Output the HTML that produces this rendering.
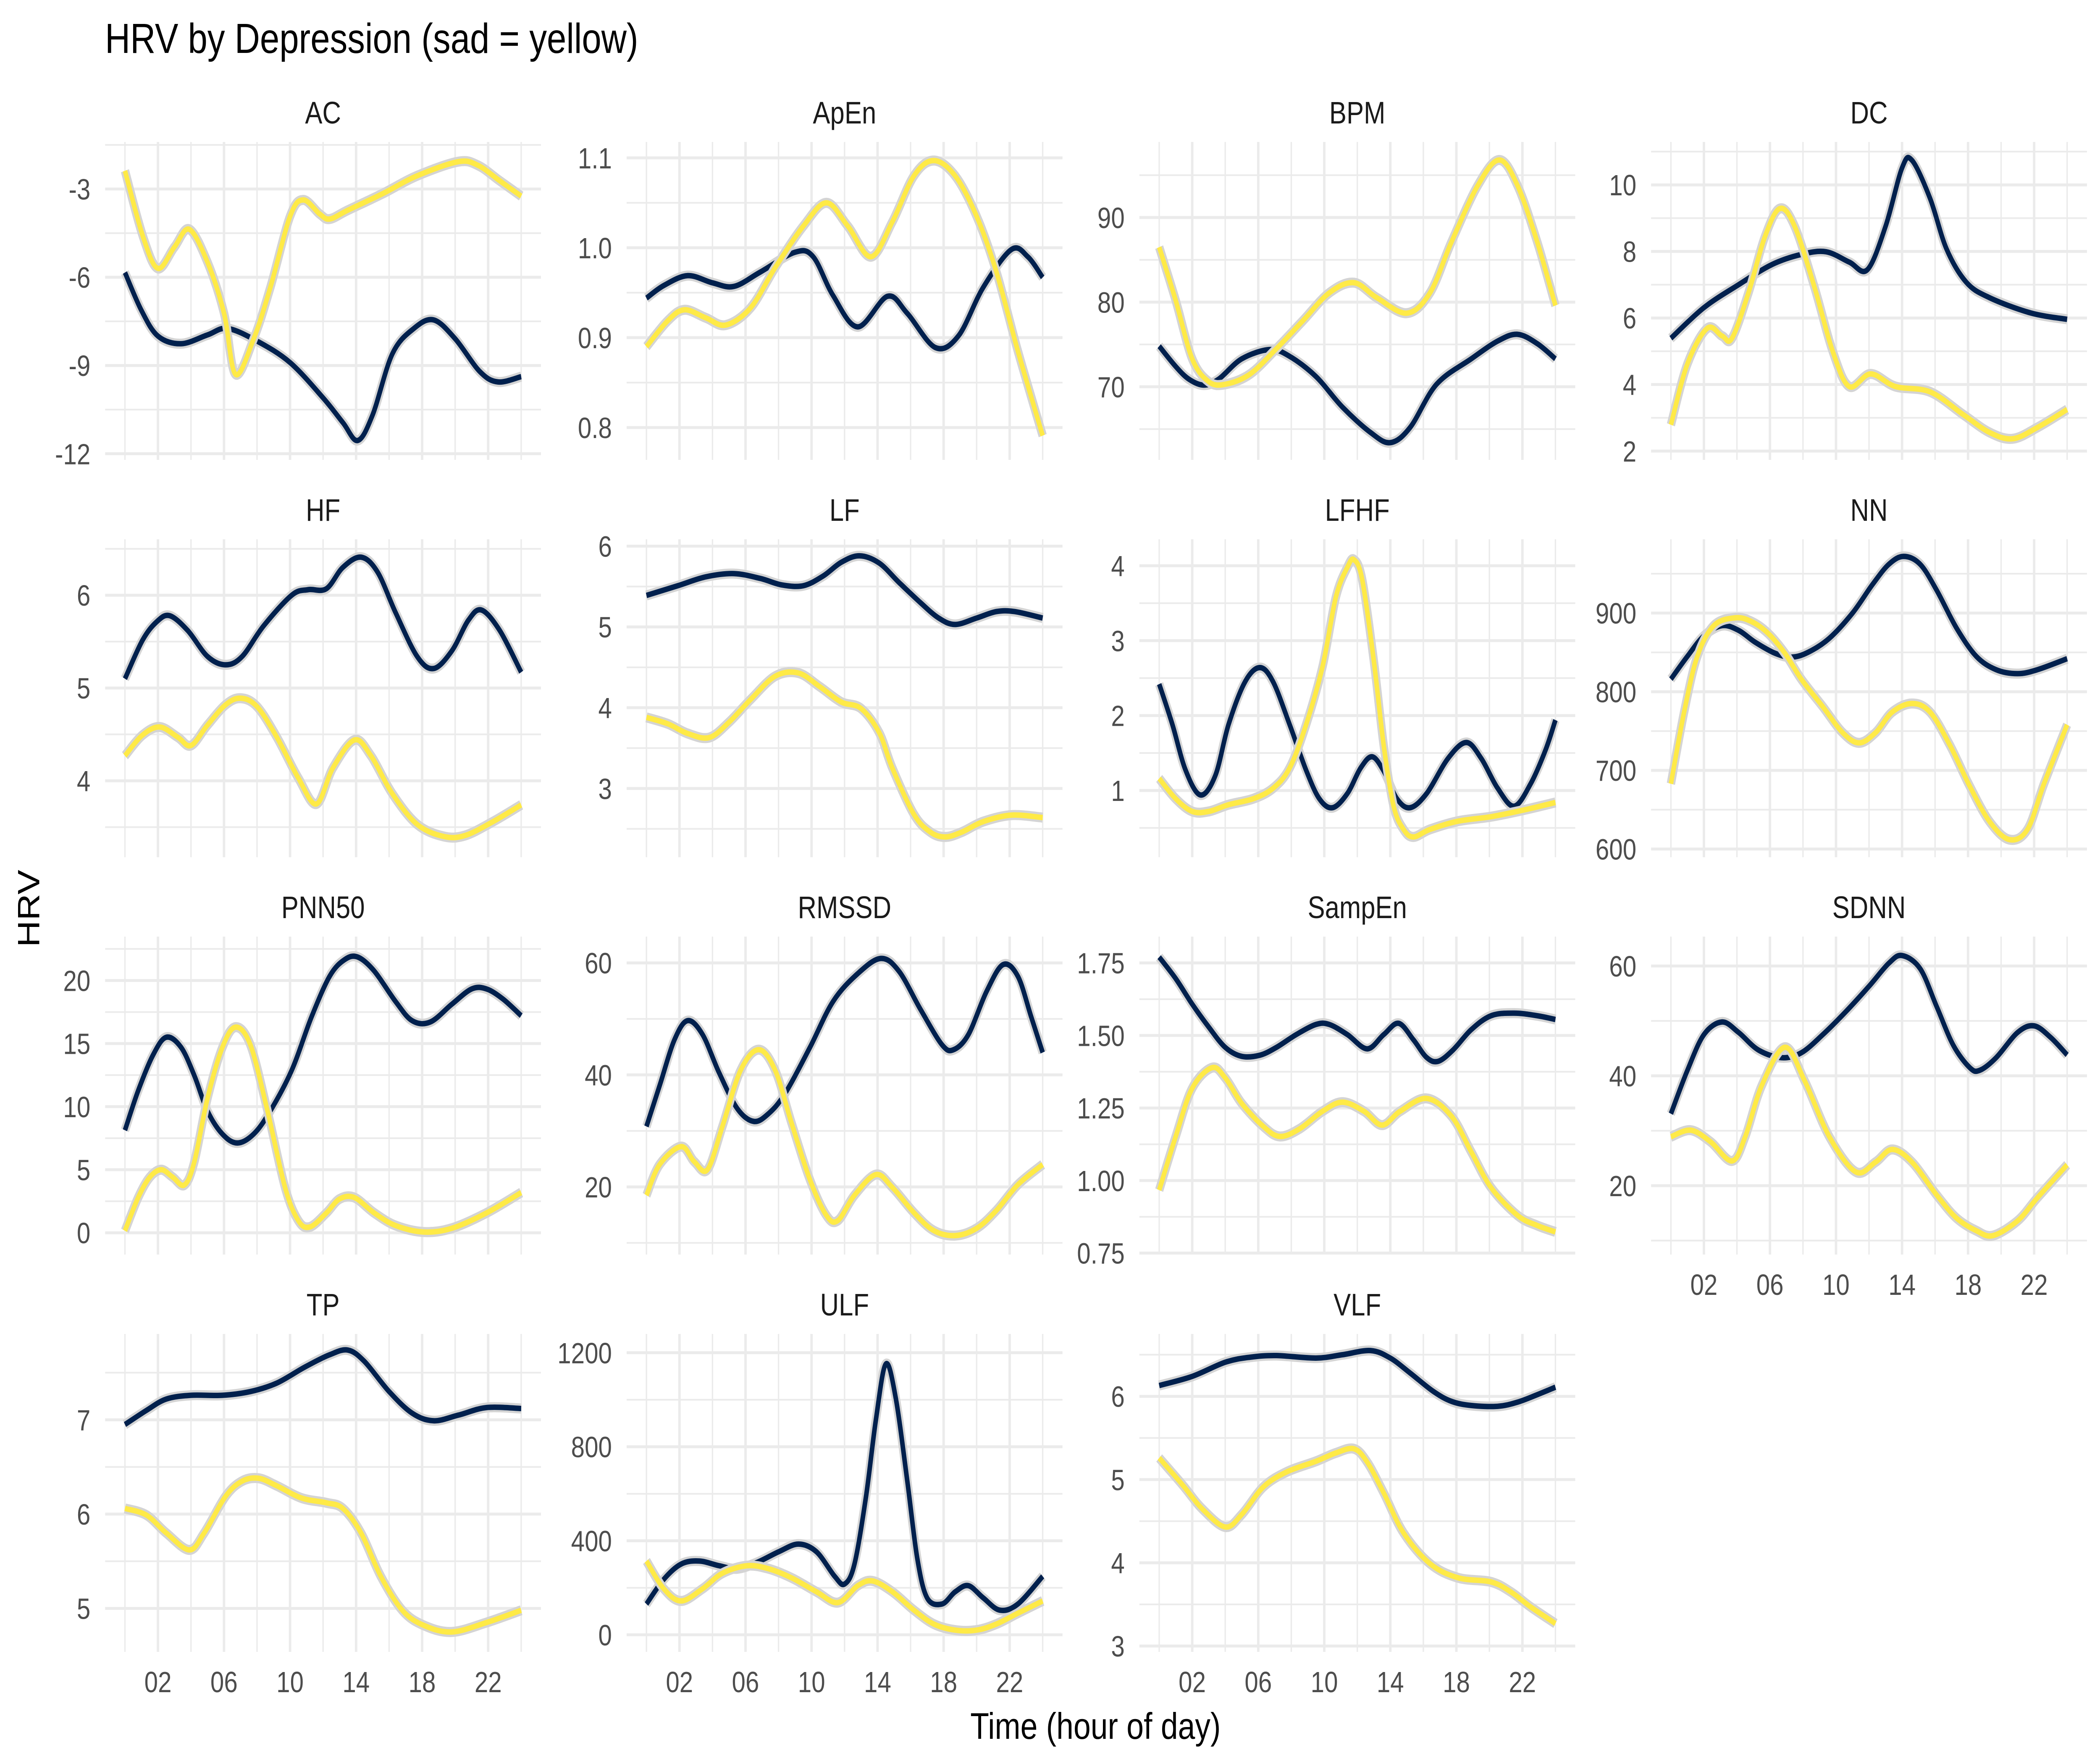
<!DOCTYPE html>
<html><head><meta charset="utf-8"><title>HRV by Depression</title>
<style>
html,body{margin:0;padding:0;background:#fff;width:100%;height:100%;overflow:hidden;}
svg{display:block;width:100vw;height:100vh;font-family:"Liberation Sans",Arial,sans-serif;}
</style></head>
<body>
<svg id="chart" viewBox="0 0 6000 4200" preserveAspectRatio="none" xmlns="http://www.w3.org/2000/svg">
<rect x="0" y="0" width="6000" height="4200" fill="#ffffff"/>
<text x="300" y="126" font-size="100" fill="#000">HRV by Depression (sad = yellow)</text>
<text x="3130" y="4140" font-size="88" fill="#000" text-anchor="middle">Time (hour of day)</text>
<text transform="translate(112,2163) rotate(-90)" font-size="88" fill="#000" text-anchor="middle">HRV</text>
</svg>
<script>
// ---------- data ----------
const xTickHours = [2,6,10,14,18,22];
const xTickLabels = ["02","06","10","14","18","22"];

const acTicks = [-12,-9,-6,-3];
const acNavyHours = [0,1,2,3.4,5,6.2,8,10,12,13.2,14.1,15,16.2,17.5,18.7,20,21.5,22.6,24];
const acNavyValues = [-5.84,-7.13,-8.0,-8.26,-7.96,-7.74,-8.17,-8.9,-10.1,-10.94,-11.55,-10.68,-8.6,-7.74,-7.45,-8.09,-9.21,-9.56,-9.38];
const acYellowHours = [0,1.1,2,3,3.9,5,6,6.7,7.8,8.8,10,10.8,11.8,12.4,13.5,15.6,17.7,20.2,21.4,22.7,24];
const acYellowValues = [-2.38,-4.63,-5.7,-4.97,-4.37,-5.49,-7.22,-9.3,-8.09,-6.36,-3.93,-3.37,-3.85,-4.02,-3.72,-3.16,-2.55,-2.07,-2.2,-2.72,-3.24];

const apenTicks = [0.8,0.9,1.0,1.1];
const apenNavyHours = [0,1.05,2.5,4,5.3,6.9,9,10.1,11.3,12.8,14.6,15.8,17.5,18.9,20.4,22.1,23.1,24];
const apenNavyValues = [0.944,0.958,0.969,0.961,0.957,0.973,0.995,0.99,0.947,0.912,0.946,0.927,0.889,0.902,0.956,0.998,0.99,0.967];
const apenYellowHours = [0,1.3,2.3,3.6,4.8,6.3,7.8,9.5,10.9,12.2,13.6,14.9,16.2,17.4,18.7,20,21.2,22.5,24];
const apenYellowValues = [0.89,0.919,0.931,0.922,0.914,0.933,0.978,1.024,1.05,1.024,0.99,1.029,1.08,1.097,1.08,1.035,0.973,0.885,0.791];

const bpmTicks = [70,80,90];
const bpmNavyHours = [0,1,1.8,2.7,3.6,5,6.7,7.9,9.5,11.1,12.8,14,15.2,16.8,18.9,20.5,21.7,22.9,24];
const bpmNavyValues = [74.8,72.4,70.9,70.2,70.9,73.3,74.4,73.6,71.2,67.6,64.6,63.4,65.2,70.3,73.3,75.4,76.2,75.1,73.3];
const bpmYellowHours = [0,1,2,3,4,5.5,7.1,8.7,10.3,11.8,13.2,15,16.4,17.7,19.3,20.6,21.7,22.9,24];
const bpmYellowValues = [86.5,80.2,73.3,70.6,70.3,71.5,74.5,77.8,81.1,82.3,80.5,78.7,81.1,87.1,93.8,96.8,93.8,87.1,79.6];

const dcTicks = [2,4,6,8,10];
const dcNavyHours = [0,2,4.1,6.1,7.9,9.4,10.8,11.9,13,14,14.6,15.7,16.7,17.9,19.3,21.8,24];
const dcNavyValues = [5.39,6.31,7.0,7.6,7.91,7.99,7.68,7.45,8.75,10.51,10.74,9.59,8.07,7.07,6.61,6.15,5.96];
const dcYellowHours = [0,1,2.2,3.1,3.7,4.7,5.7,6.6,7.5,8.7,9.8,10.8,12.1,13.6,15.7,17.7,19.3,20.7,22.2,24];
const dcYellowValues = [2.79,4.62,5.69,5.46,5.39,6.76,8.45,9.29,8.75,6.92,5.0,3.94,4.32,3.94,3.78,3.1,2.56,2.37,2.71,3.25];

const hfTicks = [4,5,6];
const hfNavyHours = [0,1.05,1.9,2.7,3.8,5,6.1,7.1,8.4,10.1,11.1,12.2,13.2,14.3,15.3,16.4,17.7,18.7,19.8,20.8,21.6,22.7,24];
const hfNavyValues = [5.1,5.51,5.71,5.78,5.62,5.34,5.25,5.34,5.67,6.0,6.06,6.07,6.3,6.41,6.25,5.81,5.34,5.21,5.4,5.73,5.84,5.62,5.17];
const hfYellowHours = [0,1.05,2.1,3.2,4,5,6.1,7,8,9.2,10.5,11.6,12.6,13.9,14.9,16.2,17.7,19.3,20.6,22.3,24];
const hfYellowValues = [4.27,4.49,4.58,4.47,4.38,4.6,4.82,4.89,4.8,4.47,4.03,3.75,4.14,4.44,4.27,3.86,3.53,3.4,3.41,3.56,3.74];

const lfTicks = [3,4,5,6];
const lfNavyHours = [0,1.9,3.6,5.3,6.9,8.2,9.5,10.7,11.8,12.9,14.1,15.3,16.6,17.7,18.7,20,21.2,22.3,24];
const lfNavyValues = [5.39,5.51,5.62,5.66,5.6,5.52,5.51,5.63,5.8,5.88,5.79,5.55,5.3,5.11,5.03,5.11,5.19,5.19,5.11];
const lfYellowHours = [0,1.3,2.5,3.8,5,6.3,7.8,9.2,10.5,11.8,13,14.1,14.9,16.2,17.2,18.1,19.1,20.4,22.1,24];
const lfYellowValues = [3.88,3.8,3.68,3.63,3.82,4.1,4.39,4.43,4.26,4.07,3.99,3.69,3.25,2.68,2.46,2.4,2.46,2.59,2.67,2.64];

const lfhfTicks = [1,2,3,4];
const lfhfNavyHours = [0,0.8,1.6,2.5,3.4,4.2,5.2,6.1,6.9,7.9,8.9,9.7,10.5,11.4,12.2,12.9,13.6,14.4,15.2,16.2,17.5,18.6,19.5,20.5,21.5,22.5,23.4,24];
const lfhfNavyValues = [2.42,1.88,1.27,0.94,1.2,1.88,2.45,2.64,2.45,1.88,1.27,0.89,0.77,0.96,1.3,1.45,1.26,0.89,0.77,0.96,1.43,1.64,1.43,1.03,0.79,1.09,1.54,1.94];
const lfhfYellowHours = [0,1,2,3,4.2,5.7,6.9,7.9,8.9,9.9,10.7,11.4,11.8,12.3,13,13.6,14.2,14.8,15.4,16.4,18.1,20.1,22.1,24];
const lfhfYellowValues = [1.16,0.89,0.72,0.72,0.81,0.89,1.03,1.3,1.88,2.66,3.58,3.98,4.08,3.81,2.73,1.6,0.79,0.48,0.38,0.48,0.59,0.65,0.74,0.84];

const nnTicks = [600,700,800,900];
const nnNavyHours = [0,1,2,3.1,4.1,5.1,6.3,7.3,8.3,9.6,11,12.2,13.2,14.1,15.1,16.1,17.3,18.5,19.7,21,22.2,24];
const nnNavyValues = [816,845,871,884,878,863,849,844,850,868,900,936,962,972,962,929,881,845,828,823,828,842];
const nnYellowHours = [0,0.8,1.6,2.6,3.9,4.9,5.9,6.9,7.9,9.2,10.4,11.4,12.4,13.4,14.6,15.7,16.9,18.1,19.3,20.5,21.6,22.6,24];
const nnYellowValues = [683,774,845,884,894,889,874,849,816,781,748,735,748,774,785,774,732,680,635,612,625,683,758];

const pnnTicks = [0,5,10,15,20];
const pnnNavyHours = [0,0.8,1.7,2.5,3.4,4.2,5,5.9,6.8,7.8,8.8,10.1,11.3,12.4,13.3,14.1,15.1,16.4,17.4,18.5,19.8,21,21.9,22.9,24];
const pnnNavyValues = [8.13,11.26,14.09,15.5,14.7,12.47,9.65,7.83,7.12,7.83,9.65,12.88,17.11,20.34,21.65,21.86,20.75,18.32,16.81,16.71,18.12,19.33,19.33,18.53,17.21];
const pnnYellowHours = [0,0.8,1.5,2.2,2.9,3.6,4.2,5,5.9,6.7,7.6,8.6,9.7,10.5,11.2,12.2,13,13.9,15.1,16.4,18.1,19.8,21.9,24];
const pnnYellowValues = [0.16,2.79,4.4,5.0,4.4,3.79,5.61,10.66,14.69,16.3,14.89,9.85,3.59,0.97,0.46,1.57,2.68,2.79,1.57,0.57,0.06,0.36,1.57,3.19];

const rmssdTicks = [20,40,60];
const rmssdNavyHours = [0,0.8,1.7,2.5,3.4,4.4,5.5,6.5,7.4,8.4,9.9,11.3,12.8,14.2,15.3,16.6,17.9,18.6,19.5,20.6,21.6,22.5,23.3,24];
const rmssdNavyValues = [30.8,38.1,46.3,49.7,47.2,40.4,34.0,31.7,33.1,36.7,44.9,53.1,58.1,60.8,58.5,51.7,45.4,44.5,47.2,54.9,59.7,57.6,50.4,44.0];
const rmssdYellowHours = [0,0.8,2.1,2.9,3.7,4.6,5.7,6.8,7.8,8.8,9.9,10.9,11.6,12.6,13.9,14.9,16.2,17.4,18.7,20,21.2,22.5,24];
const rmssdYellowValues = [18.5,24.0,27.2,24.5,23.1,30.8,40.8,44.5,40.8,31.3,21.3,14.9,14.0,18.5,22.2,19.9,15.4,12.2,11.3,12.6,15.8,20.4,24.0];

const sampenTicks = [0.75,1.00,1.25,1.50,1.75];
const sampenNavyHours = [0,1,2,3,4,5,6.1,7.1,8.3,9.5,10.3,11.4,12.6,13.6,14.5,15.4,16.2,16.9,17.8,18.9,20.1,21.5,22.9,24];
const sampenNavyValues = [1.77,1.696,1.608,1.529,1.459,1.428,1.432,1.459,1.503,1.538,1.538,1.503,1.454,1.503,1.542,1.485,1.424,1.411,1.45,1.52,1.568,1.577,1.568,1.555];
const sampenYellowHours = [0,1,2,3.2,4,5,6.3,7.3,8.5,9.9,11.1,12.4,13.5,14.6,16.2,17.7,18.9,20.1,21.7,22.9,24];
const sampenYellowValues = [0.967,1.152,1.318,1.389,1.354,1.266,1.187,1.152,1.178,1.239,1.27,1.239,1.191,1.239,1.283,1.222,1.099,0.976,0.88,0.845,0.823];

const sdnnTicks = [20,40,60];
const sdnnNavyHours = [0,1,2,3.1,4.1,5.3,6.7,7.9,9.2,10.6,12,13.2,14,15.1,16.1,17.1,18.1,18.7,19.7,21,22,23,24];
const sdnnNavyValues = [33.1,41.0,47.5,49.8,47.9,44.7,43.3,44.2,47.5,51.7,56.3,60.5,61.9,59.5,52.6,45.6,41.5,41.0,43.3,47.9,49.1,47.0,43.8];
const sdnnYellowHours = [0,1.2,2.4,3.7,4.5,5.5,6.9,8.1,9.6,11.2,12.4,13.4,14.6,16.1,17.3,18.5,19.5,21,22.2,24];
const sdnnYellowValues = [28.9,30.1,28.0,24.5,28.9,38.2,45.2,39.1,28.9,22.5,24.3,26.6,24.3,18.3,14.1,11.8,10.9,13.6,17.8,23.8];

const tpTicks = [5,6,7];
const tpNavyHours = [0,1.3,2.5,4,5.9,7.6,9.2,10.9,12.4,13.5,14.5,16,17.4,18.7,20.2,21.9,24];
const tpNavyValues = [6.95,7.1,7.22,7.26,7.26,7.3,7.39,7.56,7.69,7.74,7.62,7.3,7.07,6.99,7.05,7.13,7.12];
const tpYellowHours = [0,1.3,2.5,3.9,4.8,6.1,7.1,8.1,9.2,10.7,12.2,13.2,14.3,15.5,16.8,18.1,19.8,21.9,24];
const tpYellowValues = [6.06,5.99,5.8,5.62,5.8,6.19,6.35,6.38,6.3,6.17,6.12,6.06,5.8,5.34,4.98,4.82,4.75,4.85,4.98];

const ulfTicks = [0,400,800,1200];
const ulfNavyHours = [0,1.05,2.1,3.2,4.4,5.5,6.7,8,9.2,10.3,11.4,12,12.6,13.3,13.9,14.5,15.1,15.8,16.4,17,17.9,18.7,19.5,20.4,21.4,22.5,24];
const ulfNavyValues = [131,236,301,314,294,281,308,353,386,353,249,216,301,589,916,1152,1007,654,327,157,131,183,209,157,105,131,249];
const ulfYellowHours = [0,1.05,2.1,3.4,4.6,6.1,7.4,8.8,10.3,11.6,12.8,13.7,14.9,16.2,17.4,18.7,20,21.2,22.5,24];
const ulfYellowValues = [314,196,144,196,262,294,281,242,183,137,209,229,183,105,46,20,20,46,92,144];

const vlfTicks = [3,4,5,6];
const vlfNavyHours = [0,2,4,5.5,7.1,9.5,11.1,12.8,14,15.2,16.6,17.7,18.9,20.5,21.7,22.9,24];
const vlfNavyValues = [6.13,6.24,6.41,6.47,6.49,6.46,6.5,6.55,6.46,6.28,6.06,5.94,5.89,5.88,5.93,6.02,6.11];
const vlfYellowHours = [0,1.4,2.6,4,5,6.3,7.7,9.5,10.7,11.8,12.6,13.6,14.8,16.4,18.1,20.1,21.3,22.5,24];
const vlfYellowValues = [5.26,4.94,4.65,4.43,4.58,4.91,5.09,5.22,5.32,5.37,5.21,4.84,4.36,3.99,3.82,3.77,3.65,3.47,3.27];

// ---------- layout ----------
const NS = "http://www.w3.org/2000/svg";
const svg = document.getElementById("chart");
const rowTops = [338, 1284, 2230, 3176];
const panelH = 757;
const colHour0 = [357, 1847, 3312, 4774];
const pxPerHour = 47.17;
const pad = 56.6;
const NAVY = "#00204D", YELLOW = "#FFEA46";

const panels = [
  {name:"AC", r:0, c:0, lo:-12.21, hi:-1.40, ticks:acTicks, dec:0, s:[[acNavyHours,acNavyValues],[acYellowHours,acYellowValues]]},
  {name:"ApEn", r:0, c:1, lo:0.764, hi:1.1177, ticks:apenTicks, dec:1, s:[[apenNavyHours,apenNavyValues],[apenYellowHours,apenYellowValues]]},
  {name:"BPM", r:0, c:2, lo:61.36, hi:98.93, ticks:bpmTicks, dec:0, s:[[bpmNavyHours,bpmNavyValues],[bpmYellowHours,bpmYellowValues]]},
  {name:"DC", r:0, c:3, lo:1.735, hi:11.29, ticks:dcTicks, dec:0, s:[[dcNavyHours,dcNavyValues],[dcYellowHours,dcYellowValues]]},
  {name:"HF", r:1, c:0, lo:3.176, hi:6.603, ticks:hfTicks, dec:0, s:[[hfNavyHours,hfNavyValues],[hfYellowHours,hfYellowValues]]},
  {name:"LF", r:1, c:1, lo:2.149, hi:6.085, ticks:lfTicks, dec:0, s:[[lfNavyHours,lfNavyValues],[lfYellowHours,lfYellowValues]]},
  {name:"LFHF", r:1, c:2, lo:0.109, hi:4.353, ticks:lfhfTicks, dec:0, s:[[lfhfNavyHours,lfhfNavyValues],[lfhfYellowHours,lfhfYellowValues]]},
  {name:"NN", r:1, c:3, lo:589.6, hi:993.8, ticks:nnTicks, dec:0, s:[[nnNavyHours,nnNavyValues],[nnYellowHours,nnYellowValues]]},
  {name:"PNN50", r:2, c:0, lo:-1.725, hi:23.48, ticks:pnnTicks, dec:0, s:[[pnnNavyHours,pnnNavyValues],[pnnYellowHours,pnnYellowValues]]},
  {name:"RMSSD", r:2, c:1, lo:7.92, hi:64.7, ticks:rmssdTicks, dec:0, s:[[rmssdNavyHours,rmssdNavyValues],[rmssdYellowHours,rmssdYellowValues]]},
  {name:"SampEn", r:2, c:2, lo:0.745, hi:1.8407, ticks:sampenTicks, dec:2, s:[[sampenNavyHours,sampenNavyValues],[sampenYellowHours,sampenYellowValues]]},
  {name:"SDNN", r:2, c:3, lo:7.46, hi:65.35, ticks:sdnnTicks, dec:0, s:[[sdnnNavyHours,sdnnNavyValues],[sdnnYellowHours,sdnnYellowValues]], xaxis:true},
  {name:"TP", r:3, c:0, lo:4.539, hi:7.911, ticks:tpTicks, dec:0, s:[[tpNavyHours,tpNavyValues],[tpYellowHours,tpYellowValues]], xaxis:true},
  {name:"ULF", r:3, c:1, lo:-72.5, hi:1280, ticks:ulfTicks, dec:0, s:[[ulfNavyHours,ulfNavyValues],[ulfYellowHours,ulfYellowValues]], xaxis:true},
  {name:"VLF", r:3, c:2, lo:2.93, hi:6.75, ticks:vlfTicks, dec:0, s:[[vlfNavyHours,vlfNavyValues],[vlfYellowHours,vlfYellowValues]], xaxis:true}
];

function mk(tag, attrs, parent){
  const e = document.createElementNS(NS, tag);
  for (const k in attrs) e.setAttribute(k, attrs[k]);
  (parent || svg).appendChild(e);
  return e;
}
function smoothPath(pts){
  let d = "M" + pts[0][0].toFixed(1) + "," + pts[0][1].toFixed(1);
  for (let i = 0; i < pts.length - 1; i++){
    const p0 = pts[Math.max(0,i-1)], p1 = pts[i], p2 = pts[i+1], p3 = pts[Math.min(pts.length-1,i+2)];
    const c1x = p1[0] + (p2[0]-p0[0])/6, c1y = p1[1] + (p2[1]-p0[1])/6;
    const c2x = p2[0] - (p3[0]-p1[0])/6, c2y = p2[1] - (p3[1]-p1[1])/6;
    d += " C" + c1x.toFixed(1) + "," + c1y.toFixed(1) + " " + c2x.toFixed(1) + "," + c2y.toFixed(1) + " " + p2[0].toFixed(1) + "," + p2[1].toFixed(1);
  }
  return d;
}

panels.forEach(function(p){
  const top = rowTops[p.r], bottom = top + panelH;
  const h0 = colHour0[p.c];
  const left = h0 - pad, right = h0 + 24*pxPerHour + pad;
  const xs = function(h){ return h0 + h*pxPerHour; };
  const ys = function(v){ return bottom - (v - p.lo)/(p.hi - p.lo)*panelH; };
  const key = p.name.toLowerCase();

  const g = mk("g", {});
  
  

  const step = p.ticks[1] - p.ticks[0];
  for (let i = -1; i < p.ticks.length; i++){
    const v = p.ticks[0] + (i + 0.5)*step;
    if (v <= p.lo || v >= p.hi) continue;
    const ln = mk("line", {x1:left, x2:right, y1:ys(v), y2:ys(v), stroke:"#ebebeb", "stroke-width":4}, g);
    
    
  }
  for (let h = 0; h <= 24; h += 2){
    const major = (h % 4 === 2);
    const ln = mk("line", {x1:xs(h), x2:xs(h), y1:top, y2:bottom, stroke:"#ebebeb", "stroke-width": major ? 7 : 4}, g);
    
    
  }
  p.ticks.forEach(function(t){
    const ln = mk("line", {x1:left, x2:right, y1:ys(t), y2:ys(t), stroke:"#ebebeb", "stroke-width":7}, g);
    
    
    const tx = mk("text", {x:left - 42, y:ys(t) + 25, "font-size":70, fill:"#4d4d4d", "text-anchor":"end"}, g);
    tx.textContent = t.toFixed(p.dec);
    
    
  });
  const st = mk("text", {x:(left+right)/2, y:top - 44, "font-size":74, fill:"#1a1a1a", "text-anchor":"middle"}, g);
  st.textContent = p.name;
  
  
  if (p.xaxis){
    xTickHours.forEach(function(h, i){
      const tx = mk("text", {x:xs(h), y:bottom + 96, "font-size":70, fill:"#4d4d4d", "text-anchor":"middle"}, g);
      tx.textContent = xTickLabels[i];
      
      
    });
  }
  const colors = [NAVY, YELLOW];
  const names = ['navy', 'yellow'];
  p.s.forEach(function(ser, si){
    const pts = ser[0].map(function(h, i){ return [xs(h), ys(ser[1][i])]; });
    const d = smoothPath(pts);
    const band = mk("path", {d:d, fill:"none", stroke:"#d4d4d4", "stroke-width":24, "stroke-linejoin":"round"}, g);
    
    
    const line = mk("path", {d:d, fill:"none", stroke:colors[si], "stroke-width":13, "stroke-linejoin":"round"}, g);
    
    
  });
});
</script>
</body></html>
